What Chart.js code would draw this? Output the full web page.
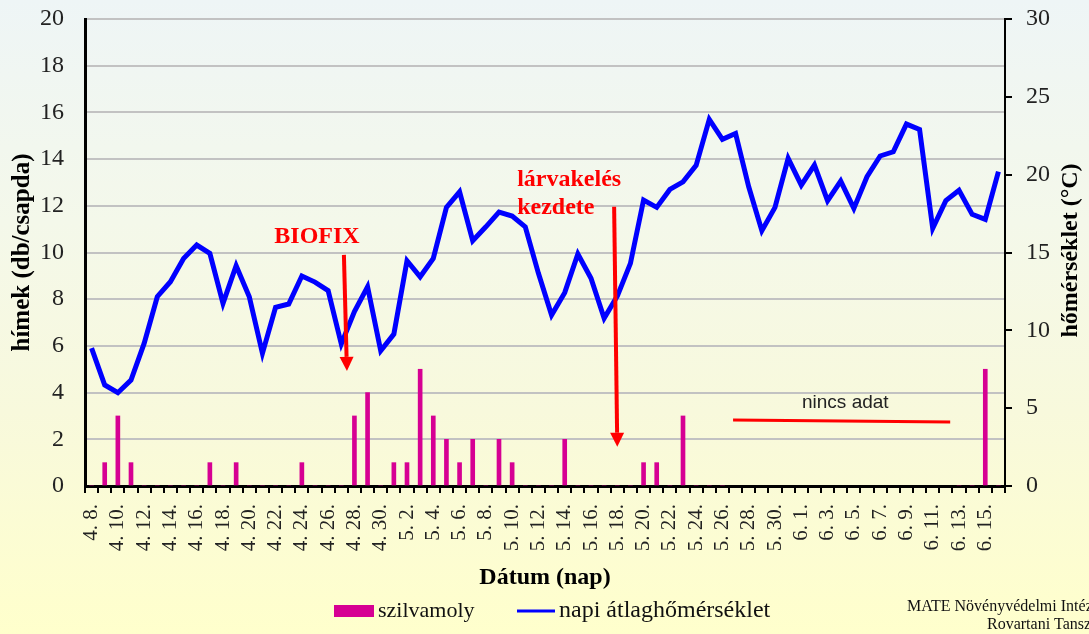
<!DOCTYPE html>
<html>
<head>
<meta charset="utf-8">
<script src="https://cdn.jsdelivr.net/npm/chart.js@4.4.0/dist/chart.umd.min.js"></script>
<style>
  body { margin: 0; }
  #wrap {
    width: 1089px;
    height: 634px;
    background: linear-gradient(to bottom, #eef5f6 0%, #f4f8ea 35%, #f8f9dc 65%, #ffffcc 100%);
  }
</style>
</head>
<body>
<div id="wrap"><canvas id="moth-chart" width="1089" height="634"></canvas></div>
<script>
// dates 4.8. - 6.16.
const labels = [
    '4. 8.', '4. 9.', '4. 10.', '4. 11.', '4. 12.', '4. 13.', '4. 14.', '4. 15.', '4. 16.', '4. 17.',
    '4. 18.', '4. 19.', '4. 20.', '4. 21.', '4. 22.', '4. 23.', '4. 24.', '4. 25.', '4. 26.', '4. 27.',
    '4. 28.', '4. 29.', '4. 30.', '5. 1.', '5. 2.', '5. 3.', '5. 4.', '5. 5.', '5. 6.', '5. 7.',
    '5. 8.', '5. 9.', '5. 10.', '5. 11.', '5. 12.', '5. 13.', '5. 14.', '5. 15.', '5. 16.', '5. 17.',
    '5. 18.', '5. 19.', '5. 20.', '5. 21.', '5. 22.', '5. 23.', '5. 24.', '5. 25.', '5. 26.', '5. 27.',
    '5. 28.', '5. 29.', '5. 30.', '5. 31.', '6. 1.', '6. 2.', '6. 3.', '6. 4.', '6. 5.', '6. 6.',
    '6. 7.', '6. 8.', '6. 9.', '6. 10.', '6. 11.', '6. 12.', '6. 13.', '6. 14.', '6. 15.', '6. 16.'
];

// szilvamoly catches (db/csapda), null = nincs adat
const mothCounts = [
    0, 1, 3, 1, 0, 0, 0, 0, 0, 1,
    0, 1, 0, 0, 0, 0, 1, 0, 0, 0,
    3, 4, 0, 1, 1, 5, 3, 2, 1, 2,
    0, 2, 1, 0, 0, 0, 2, 0, 0, 0,
    0, 0, 1, 1, 0, 3, 0, 0, 0, null,
    null, null, null, null, null, null, null, null, null, null,
    null, null, null, null, null, null, 0, 0, 5, 0
];

// napi átlaghőmérséklet (°C)
const meanTemp = [
    8.86, 6.49, 5.99, 6.8, 9.16, 12.16, 13.12, 14.62, 15.48, 14.94,
    11.73, 14.15, 12.16, 8.52, 11.48, 11.69, 13.49, 13.1, 12.55, 9.12,
    11.2, 12.8, 8.69, 9.76, 14.47, 13.44, 14.62, 17.9, 18.9, 15.76,
    16.65, 17.6, 17.34, 16.65, 13.66, 10.98, 12.42, 14.9, 13.34, 10.77,
    12.2, 14.3, 18.37, 17.9, 19.05, 19.54, 20.6, 23.55, 22.27, 22.65,
    19.22, 16.4, 17.9, 21.05, 19.33, 20.62, 18.33, 19.59, 17.83, 19.87,
    21.2, 21.47, 23.25, 22.9, 16.55, 18.33, 19.0, 17.45, 17.13, 20.19
];

const serif = "'Liberation Serif', 'Times New Roman', serif";
const red = '#ff0000';

// annotation anchors in data units (x = category index, y = left axis value)
const biofixText = [17.15, 10.66];
const biofixArrow = [19.2, 9.9, 19.43, 4.93];
const larvaText = [32.38, 13.1];
const larvaArrow = [39.76, 11.96, 40.0, 1.68];
const noDataText = [57.35, 3.55];
const noDataLine = [48.81, 2.83, 65.33, 2.74];

function drawArrow(ctx, x1, y1, x2, y2) {
    const ang = Math.atan2(y2 - y1, x2 - x1);
    const head = 14, half = 7;
    const bx = x2 - head * Math.cos(ang);
    const by = y2 - head * Math.sin(ang);
    ctx.strokeStyle = red;
    ctx.lineWidth = 4;
    ctx.beginPath();
    ctx.moveTo(x1, y1);
    ctx.lineTo(bx, by);
    ctx.stroke();
    ctx.fillStyle = red;
    ctx.beginPath();
    ctx.moveTo(x2, y2);
    ctx.lineTo(bx - half * Math.sin(ang), by + half * Math.cos(ang));
    ctx.lineTo(bx + half * Math.sin(ang), by - half * Math.cos(ang));
    ctx.closePath();
    ctx.fill();
}

const extras = {
    id: 'extras',
    afterDatasetsDraw(chart) {
        const ctx = chart.ctx;
        const xs = chart.scales.x, ys = chart.scales.y;
        const px = v => xs.getPixelForValue(v);
        const py = v => ys.getPixelForValue(v);
        ctx.save();
        // BIOFIX
        ctx.font = 'bold 24px ' + serif;
        ctx.fillStyle = red;
        ctx.textAlign = 'center';
        ctx.textBaseline = 'middle';
        ctx.fillText('BIOFIX', px(biofixText[0]), py(biofixText[1]));
        drawArrow(ctx, px(biofixArrow[0]), py(biofixArrow[1]), px(biofixArrow[2]), py(biofixArrow[3]));
        // lárvakelés kezdete
        ctx.textAlign = 'left';
        ctx.fillText('lárvakelés', px(larvaText[0]), py(larvaText[1]));
        ctx.fillText('kezdete', px(larvaText[0]), py(larvaText[1]) + 28);
        drawArrow(ctx, px(larvaArrow[0]), py(larvaArrow[1]), px(larvaArrow[2]), py(larvaArrow[3]));
        // nincs adat
        ctx.strokeStyle = red;
        ctx.lineWidth = 3;
        ctx.beginPath();
        ctx.moveTo(px(noDataLine[0]), py(noDataLine[1]));
        ctx.lineTo(px(noDataLine[2]), py(noDataLine[3]));
        ctx.stroke();
        ctx.font = "19px 'Liberation Sans', Arial, sans-serif";
        ctx.fillStyle = '#222';
        ctx.textAlign = 'center';
        ctx.fillText('nincs adat', px(noDataText[0]), py(noDataText[1]));
        ctx.restore();
    },
    afterDraw(chart) {
        const ctx = chart.ctx;
        const area = chart.chartArea;
        ctx.save();
        // right axis title, reading upwards
        ctx.font = 'bold 24px ' + serif;
        ctx.fillStyle = '#000';
        ctx.textAlign = 'center';
        ctx.textBaseline = 'middle';
        ctx.translate(1071, (area.top + area.bottom) / 2 - 2);
        ctx.rotate(-Math.PI / 2);
        ctx.fillText('hőmérséklet (°C)', 0, 0);
        ctx.restore();

        // legend
        ctx.save();
        ctx.textBaseline = 'middle';
        ctx.textAlign = 'left';
        ctx.fillStyle = '#d60093';
        ctx.fillRect(334, 605, 40, 12);
        ctx.fillStyle = '#111';
        ctx.font = '22px ' + serif;
        ctx.fillText('szilvamoly', 378, 611);
        ctx.strokeStyle = '#0000ff';
        ctx.lineWidth = 3;
        ctx.beginPath();
        ctx.moveTo(517, 611);
        ctx.lineTo(555, 611);
        ctx.stroke();
        ctx.font = '24px ' + serif;
        ctx.fillText('napi átlaghőmérséklet', 559, 611);
        // footer
        ctx.font = '16px ' + serif;
        ctx.fillText('MATE Növényvédelmi Intézet', 907, 607);
        ctx.fillText('Rovartani Tanszék', 987, 625);
        ctx.restore();
    }
};

// drop the label overhang Chart.js reserves above/below the value axes
function fixVertical(width) {
    return function (scale) {
        scale.width = width;
        scale.paddingTop = 0;
        scale.paddingBottom = 0;
    };
}

const data = {
    labels: labels,
    datasets: [{
        type: 'line',
        label: 'napi átlaghőmérséklet',
        data: meanTemp,
        yAxisID: 'y1',
        borderColor: '#0000ff',
        borderWidth: 5,
        pointRadius: 0,
        tension: 0,
        order: 0
    }, {
        type: 'bar',
        label: 'szilvamoly',
        data: mothCounts,
        yAxisID: 'y',
        backgroundColor: '#d60093',
        barThickness: 4,
        order: 1
    }]
};

const config = {
    type: 'bar',
    data: data,
    options: {
        responsive: false,
        animation: false,
        layout: {
            padding: { top: 19, left: 0, right: 0, bottom: 42 }
        },
        plugins: {
            legend: { display: false },
            tooltip: { enabled: false }
        },
        scales: {
            x: {
                offset: true,
                grid: {
                    display: true,
                    offset: true,
                    drawOnChartArea: false,
                    tickLength: 7,
                    color: '#000',
                    lineWidth: 2
                },
                border: { display: true, color: '#000', width: 3 },
                ticks: {
                    autoSkip: false,
                    maxRotation: 90,
                    minRotation: 90,
                    padding: 11,
                    color: '#222',
                    font: { family: serif, size: 21 },
                    callback: function (value, index) {
                        return index % 2 === 0 ? labels[index] : '';
                    }
                },
                title: {
                    display: true,
                    text: 'Dátum (nap)',
                    color: '#000',
                    font: { family: serif, size: 24, weight: 'bold' },
                    padding: { top: 0, bottom: 0 }
                },
                afterFit: function (scale) { scale.height = 106; }
            },
            y: {
                position: 'left',
                min: 0,
                max: 20,
                ticks: {
                    stepSize: 2,
                    padding: 21,
                    color: '#222',
                    font: { family: serif, size: 24 }
                },
                grid: {
                    color: '#c2c2c2',
                    lineWidth: 2,
                    drawTicks: false
                },
                border: { display: true, color: '#000', width: 3 },
                title: {
                    display: true,
                    text: 'hímek (db/csapda)',
                    color: '#000',
                    font: { family: serif, size: 25, weight: 'bold' },
                    padding: { top: 8, bottom: 0 }
                },
                afterFit: fixVertical(85)
            },
            y1: {
                position: 'right',
                min: 0,
                max: 30,
                ticks: {
                    stepSize: 5,
                    padding: 14,
                    color: '#222',
                    font: { family: serif, size: 24 }
                },
                grid: {
                    drawOnChartArea: false,
                    tickLength: 7,
                    color: '#000',
                    lineWidth: 2
                },
                border: { display: true, color: '#000', width: 2 },
                afterFit: fixVertical(84)
            }
        }
    },
    plugins: [extras]
};

const mothChart = new Chart(
    document.getElementById('moth-chart'),
    config
);
</script>
</body>
</html>
